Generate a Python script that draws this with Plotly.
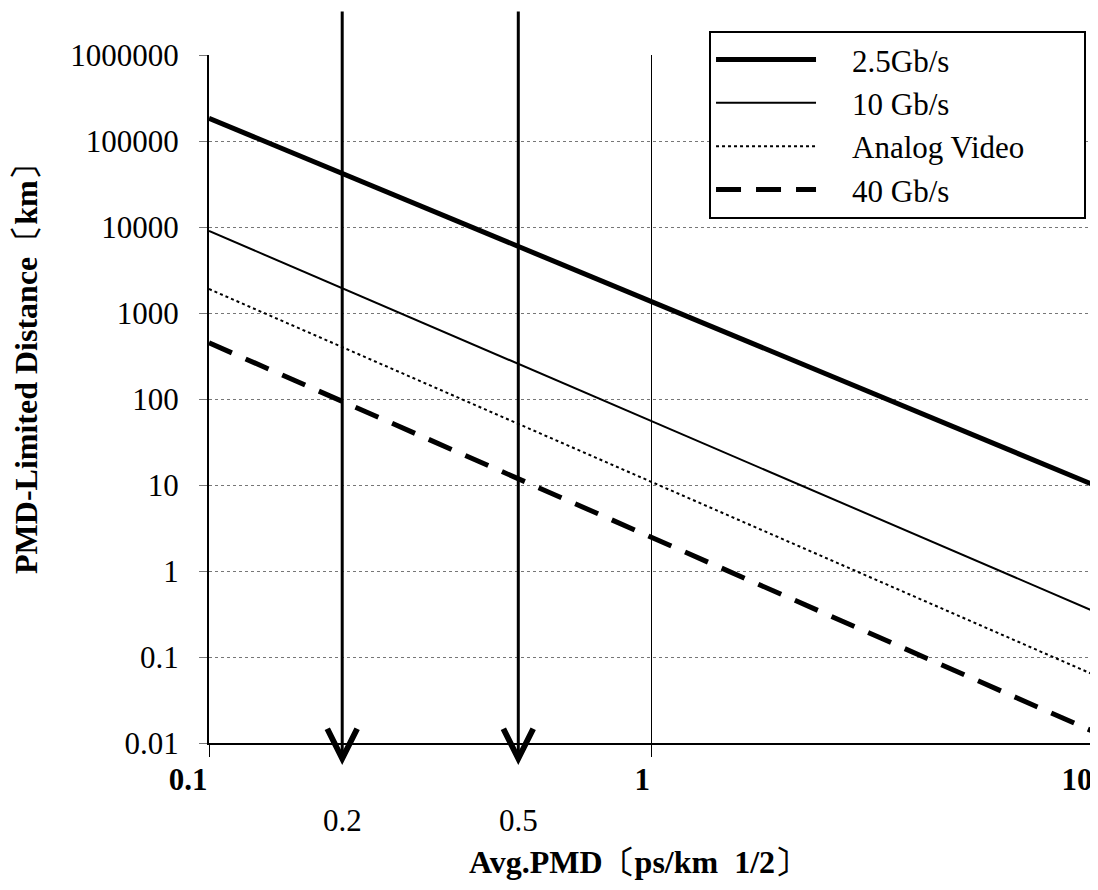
import numpy as np
import plotly.graph_objects as go

# ---- data ----
pmd_x = [0.1, 10]                      # Avg. PMD [ps/km^1/2]
dist_2_5g = [184000, 10]               # 2.5Gb/s
dist_10g = [9000, 0.34]                # 10 Gb/s
dist_analog = [1900, 0.062]            # Analog Video
dist_40g = [450, 0.0135]               # 40 Gb/s

series_names = ["2.5Gb/s", "10 Gb/s", "Analog Video", "40 Gb/s"]
x_ticks = [0.1, 1, 10]
x_tick_text = ["0.1", "1", "10"]
y_ticks = [0.01, 0.1, 1, 10, 100, 1000, 10000, 100000, 1000000]
y_tick_text = ["0.01", "0.1", "1", "10", "100", "1000", "10000", "100000", "1000000"]
marked_pmd = [0.2, 0.5]
marked_text = ["0.2", "0.5"]

FONT = "Liberation Serif, Times New Roman, serif"
NB = "\u00a0"

fig = go.Figure()
styles = [
    dict(width=5, dash="solid"),
    dict(width=2, dash="solid"),
    dict(width=2, dash="dot"),
    dict(width=5, dash="25px,15px"),
]
for name, ys, st in zip(series_names, [dist_2_5g, dist_10g, dist_analog, dist_40g], styles):
    fig.add_trace(go.Scatter(x=pmd_x, y=ys, mode="lines", name=NB * 4 + name + NB * 7,
                             line=dict(color="black", width=st["width"], dash=st["dash"])))

# arrows marking 0.2 and 0.5
for v, t in zip(marked_pmd, marked_text):
    fig.add_annotation(x=np.log10(v), xref="x", y=-0.032, yref="paper",
                       ax=0, ay=-755, text="", showarrow=True,
                       arrowhead=5, arrowsize=1.95, arrowwidth=3, arrowcolor="black")
    fig.add_annotation(x=np.log10(v), xref="x", y=-0.112, yref="paper",
                       text=t, showarrow=False, font=dict(size=31, family=FONT, color="black"),
                       xanchor="center", yanchor="middle")

# axis titles
fig.add_annotation(x=0.485, xref="paper", y=-0.173, yref="paper",
                   text="Avg.PMD〔ps/km\u00a0\u00a01/2〕", showarrow=False,
                   font=dict(size=32, family=FONT, color="black", weight="bold"),
                   xanchor="center", yanchor="middle")
fig.add_annotation(x=-0.207, xref="paper", y=0.555, yref="paper",
                   text="PMD-Limited Distance〔km〕", showarrow=False, textangle=-90,
                   font=dict(size=32, family=FONT, color="black", weight="bold"),
                   xanchor="center", yanchor="middle")

fig.update_xaxes(type="log", range=[-1, 1], tickvals=x_ticks, ticktext=x_tick_text,
                 showgrid=True, gridcolor="black", gridwidth=1,
                 ticks="outside", ticklen=12, tickcolor="black", tickwidth=1,
                 tickfont=dict(size=31, family=FONT, color="black", weight="bold"),
                 ticklabelposition="outside left", ticklabelstandoff=8,
                 showline=True, linecolor="black", linewidth=2, zeroline=False)
fig.update_yaxes(type="log", range=[-2, 6], tickvals=y_ticks, ticktext=y_tick_text,
                 showgrid=True, gridcolor="#777777", gridwidth=1, griddash="dot",
                 ticks="outside", ticklen=8, tickcolor="#777777", tickwidth=1,
                 tickfont=dict(size=31, family=FONT, color="black"),
                 ticklabelstandoff=14,
                 showline=True, linecolor="black", linewidth=2, mirror=True, zeroline=False)

# page has an 8px body margin: figure sized/offset to fit the 1098x890 window
fig.update_layout(
    width=1090, height=882, autosize=False,
    margin=dict(l=201, r=4, t=47, b=147, autoexpand=False),
    paper_bgcolor="white", plot_bgcolor="white",
    font=dict(family=FONT, size=30, color="black"),
    showlegend=True,
    legend=dict(x=0.565, xanchor="left", y=1.035, yanchor="top",
                bgcolor="white", bordercolor="black", borderwidth=2,
                font=dict(size=31, family=FONT, color="black"),
                itemwidth=100, tracegroupgap=0),
)

fig.write_html("out.html")
